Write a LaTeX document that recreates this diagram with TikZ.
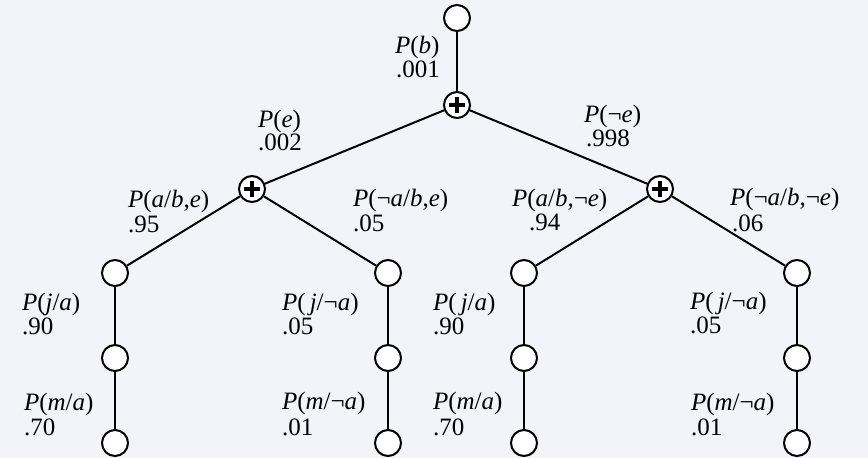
\documentclass[tikz,border=0pt]{standalone}
\usepackage{fontspec}
\setmainfont{Liberation Serif}
\definecolor{bgc}{RGB}{242,244,250}
\begin{document}
\begin{tikzpicture}[x=1pt,y=-1pt,
  nd/.style={circle,draw=black,fill=white,line width=2pt,minimum size=26pt,inner sep=0pt},
  plusnd/.style={nd,path picture={
      \draw[line width=4.4pt] ([xshift=-8pt]path picture bounding box.center) -- ([xshift=8pt]path picture bounding box.center);
      \draw[line width=4.4pt] ([yshift=-8pt]path picture bounding box.center) -- ([yshift=8pt]path picture bounding box.center);}},
  edge/.style={line width=2pt,draw=black},
  lbl/.style={anchor=base west,inner sep=0pt,outer sep=0pt,font=\fontsize{25}{26}\selectfont}]
\fill[bgc] (0,0) rectangle (868,458);
\useasboundingbox (0,0) rectangle (868,458);
% nodes
\node[nd] (top) at (457,18) {};
\node[plusnd] (root) at (457,105) {};
\node[plusnd] (lp) at (252,189) {};
\node[plusnd] (rp) at (660,189) {};
\node[nd] (a1) at (115,273) {};
\node[nd] (a2) at (388,273) {};
\node[nd] (a3) at (524,273) {};
\node[nd] (a4) at (797,273) {};
\node[nd] (j1) at (115,358) {};
\node[nd] (j2) at (388,358) {};
\node[nd] (j3) at (524,358) {};
\node[nd] (j4) at (797,358) {};
\node[nd] (m1) at (115,443) {};
\node[nd] (m2) at (388,443) {};
\node[nd] (m3) at (524,443) {};
\node[nd] (m4) at (797,443) {};
% edges
\draw[edge] (top) -- (root);
\draw[edge] (root) -- (lp);
\draw[edge] (root) -- (rp);
\draw[edge] (lp) -- (a1);
\draw[edge] (lp) -- (a2);
\draw[edge] (rp) -- (a3);
\draw[edge] (rp) -- (a4);
\foreach \i in {1,2,3,4}{
  \draw[edge] (a\i) -- (j\i);
  \draw[edge] (j\i) -- (m\i);
}
% labels
\node[lbl] (lb1) at (395,53) {\textit{P}(\textit{b})};
\node[lbl] (lb2) at (396,77) {.001};
\node[lbl] (le1) at (258,127) {\textit{P}(\textit{e})};
\node[lbl] (le2) at (258,150) {.002};
\node[lbl] (lne1) at (584,122) {\textit{P}(¬\textit{e})};
\node[lbl] (lne2) at (586,146) {.998};
\node[lbl] (la1) at (128,207) {\textit{P}(\textit{a}/\textit{b},\textit{e})};
\node[lbl] (la2) at (128,232) {.95};
\node[lbl] (lna1) at (353,206) {\textit{P}(¬\textit{a}/\textit{b},\textit{e})};
\node[lbl] (lna2) at (353,231) {.05};
\node[lbl] (la3) at (512,206) {\textit{P}(\textit{a}/\textit{b},¬\textit{e})};
\node[lbl] (la4) at (529,230) {.94};
\node[lbl] (lna3) at (730,205) {\textit{P}(¬\textit{a}/\textit{b},¬\textit{e})};
\node[lbl] (lna4) at (732,231) {.06};
\node[lbl] (lj1) at (22,310) {\textit{P}(\textit{j}/\textit{a})};
\node[lbl] (lj1v) at (22,334) {.90};
\node[lbl] (lm1) at (24,410) {\textit{P}(\textit{m}/\textit{a})};
\node[lbl] (lm1v) at (24,435) {.70};
\node[lbl] (lj2) at (282,310) {\textit{P}(\,\textit{j}/¬\textit{a})};
\node[lbl] (lj2v) at (282,334) {.05};
\node[lbl] (lm2) at (282,409) {\textit{P}(\textit{m}/¬\textit{a})};
\node[lbl] (lm2v) at (282,435) {.01};
\node[lbl] (lj3) at (433,310) {\textit{P}(\,\textit{j}/\textit{a})};
\node[lbl] (lj3v) at (433,334) {.90};
\node[lbl] (lm3) at (433,409) {\textit{P}(\textit{m}/\textit{a})};
\node[lbl] (lm3v) at (433,435) {.70};
\node[lbl] (lj4) at (690,309) {\textit{P}(\,\textit{j}/¬\textit{a})};
\node[lbl] (lj4v) at (690,333) {.05};
\node[lbl] (lm4) at (691,410) {\textit{P}(\textit{m}/¬\textit{a})};
\node[lbl] (lm4v) at (691,435) {.01};
\end{tikzpicture}
\end{document}
